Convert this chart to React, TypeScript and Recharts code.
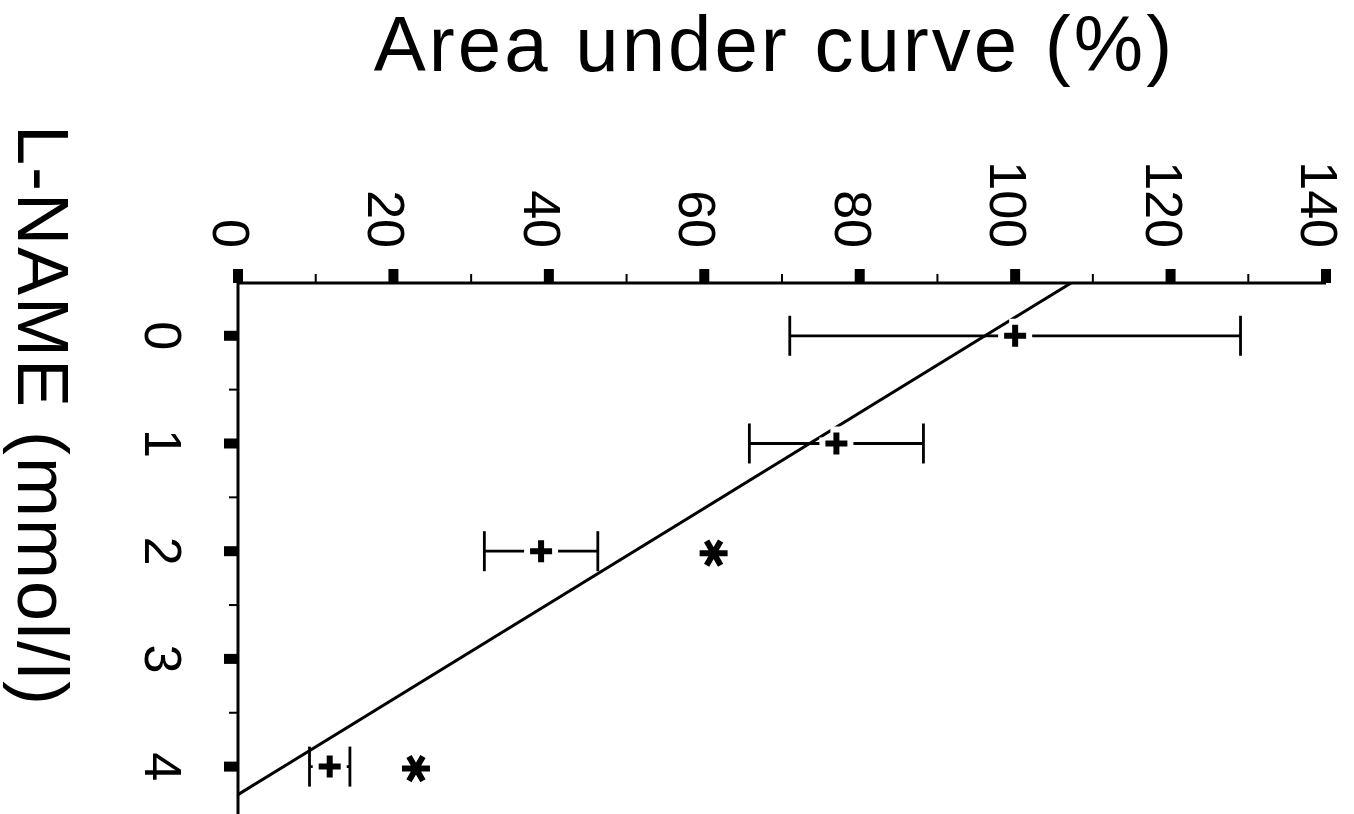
import { CSSProperties } from "react";
import { ScatterChart, Scatter, XAxis, YAxis, ErrorBar } from "recharts";

// AUC (% of control) against L-NAME dose, mean ± error
const doses = [0, 1, 2, 4];
const aucMean = [100, 77, 39, 11.8];
const aucErr = [29, 11.2, 7.3, 2.6];

// significance markers
const starDoses = [2, 4];
const starValues = [61.2, 22.9];

// linear fit, drawn between where it meets the axes
const fitDoses = [-0.49, 4.26];
const fitValues = [107.2, 0];

const valueTicks = [0, 10, 20, 30, 40, 50, 60, 70, 80, 90, 100, 110, 120, 130, 140];
const doseTicks = [0, 0.5, 1, 1.5, 2, 2.5, 3, 3.5, 4];

const points = doses.map((d, i) => ({ dose: d, auc: aucMean[i], err: aucErr[i] }));
const stars = starDoses.map((d, i) => ({ dose: d, auc: starValues[i] }));
const fit = fitDoses.map((d, i) => ({ dose: d, auc: fitValues[i] }));

const FONT = '"Liberation Sans", Arial, Helvetica, sans-serif';

// chart is laid out upright, then the whole thing is turned a quarter clockwise
const CHART_W = 814;
const CHART_H = 1354;
const AXIS_X = 283; // value axis position
const AXIS_Y = 1116; // dose axis position

function ValueTick(props: any) {
  const { y, payload } = props;
  const major = payload.value % 20 === 0;
  if (!major) {
    return <rect x={AXIS_X - 9} y={y - 1} width={9} height={2} fill="#000" />;
  }
  return (
    <g>
      <rect x={AXIS_X - 14} y={y - 5} width={14} height={10} fill="#000" />
      <text x={248} y={y + 25} textAnchor="end" fontSize={52} fontFamily={FONT} fill="#000">
        {payload.value}
      </text>
    </g>
  );
}

function DoseTick(props: any) {
  const { x, payload } = props;
  const major = Number.isInteger(payload.value);
  if (!major) {
    return <rect x={x - 1} y={AXIS_Y} width={2} height={9} fill="#000" />;
  }
  return (
    <g>
      <rect x={x - 5} y={AXIS_Y} width={10} height={14} fill="#000" />
      <text x={x} y={1209} textAnchor="middle" fontSize={52} fontFamily={FONT} fill="#000">
        {payload.value}
      </text>
    </g>
  );
}

function PlusMark(props: any) {
  const { cx, cy } = props;
  const d = `M${cx - 11},${cy}H${cx + 11}M${cx},${cy - 11}V${cy + 11}`;
  return (
    <g>
      <path d={d} stroke="#fff" strokeWidth={12} strokeLinecap="square" fill="none" />
      <path d={d} stroke="#000" strokeWidth={6} fill="none" />
    </g>
  );
}

function StarMark(props: any) {
  const { cx, cy } = props;
  const r = 14;
  const c = cx + 2;
  const dx = r * Math.cos(Math.PI / 6);
  const dy = r * Math.sin(Math.PI / 6);
  const d =
    `M${c},${cy - r}V${cy + r}` +
    `M${c - dx},${cy - dy}L${c + dx},${cy + dy}` +
    `M${c - dx},${cy + dy}L${c + dx},${cy - dy}`;
  return <path d={d} stroke="#000" strokeWidth={6} fill="none" />;
}

const Nothing = () => <g />;

export default function App() {
  const frameStyle: CSSProperties = {
    position: "absolute",
    left: 0,
    top: 0,
    width: 1354,
    height: 814,
    overflow: "hidden",
    background: "#fff",
  };

  const turnStyle: CSSProperties = {
    position: "absolute",
    left: 0,
    top: 0,
    width: CHART_W,
    height: CHART_H,
    transformOrigin: "0 0",
    transform: `translateX(${CHART_H}px) rotate(90deg)`,
  };

  return (
    <div style={frameStyle}>
      <div style={turnStyle}>
        <ScatterChart width={CHART_W} height={CHART_H} margin={{ top: 28, right: 0, bottom: 0, left: 0 }}>
          <XAxis
            type="number"
            dataKey="dose"
            domain={[-0.49, 4.44]}
            allowDataOverflow
            ticks={doseTicks}
            interval={0}
            height={238}
            axisLine={{ stroke: "#000", strokeWidth: 3 }}
            tickLine={false}
            tickSize={0}
            tickMargin={0}
            tick={<DoseTick />}
            label={{
              content: () => (
                <text
                  x={125}
                  y={1336}
                  textAnchor="start"
                  fontSize={72}
                  letterSpacing={2}
                  fontFamily={FONT}
                  fill="#000"
                >
                  L-NAME (mmol/l)
                </text>
              ),
            }}
          />
          <YAxis
            type="number"
            dataKey="auc"
            domain={[0, 140]}
            allowDataOverflow
            ticks={valueTicks}
            interval={0}
            width={283}
            axisLine={{ stroke: "#000", strokeWidth: 3 }}
            tickLine={false}
            tickSize={0}
            tickMargin={0}
            tick={<ValueTick />}
            label={{
              content: () => (
                <text
                  x={71}
                  y={579.5}
                  transform="rotate(-90 71 579.5)"
                  textAnchor="middle"
                  fontSize={78}
                  letterSpacing={3}
                  fontFamily={FONT}
                  fill="#000"
                >
                  Area under curve (%)
                </text>
              ),
            }}
          />
          <Scatter
            data={fit}
            line={{ stroke: "#000", strokeWidth: 3 }}
            shape={<Nothing />}
            isAnimationActive={false}
          />
          <Scatter data={points} shape={<PlusMark />} isAnimationActive={false}>
            <ErrorBar dataKey="err" direction="y" width={20} stroke="#000" strokeWidth={2.8} />
          </Scatter>
          <Scatter data={stars} shape={<StarMark />} isAnimationActive={false} />
        </ScatterChart>
      </div>
    </div>
  );
}
